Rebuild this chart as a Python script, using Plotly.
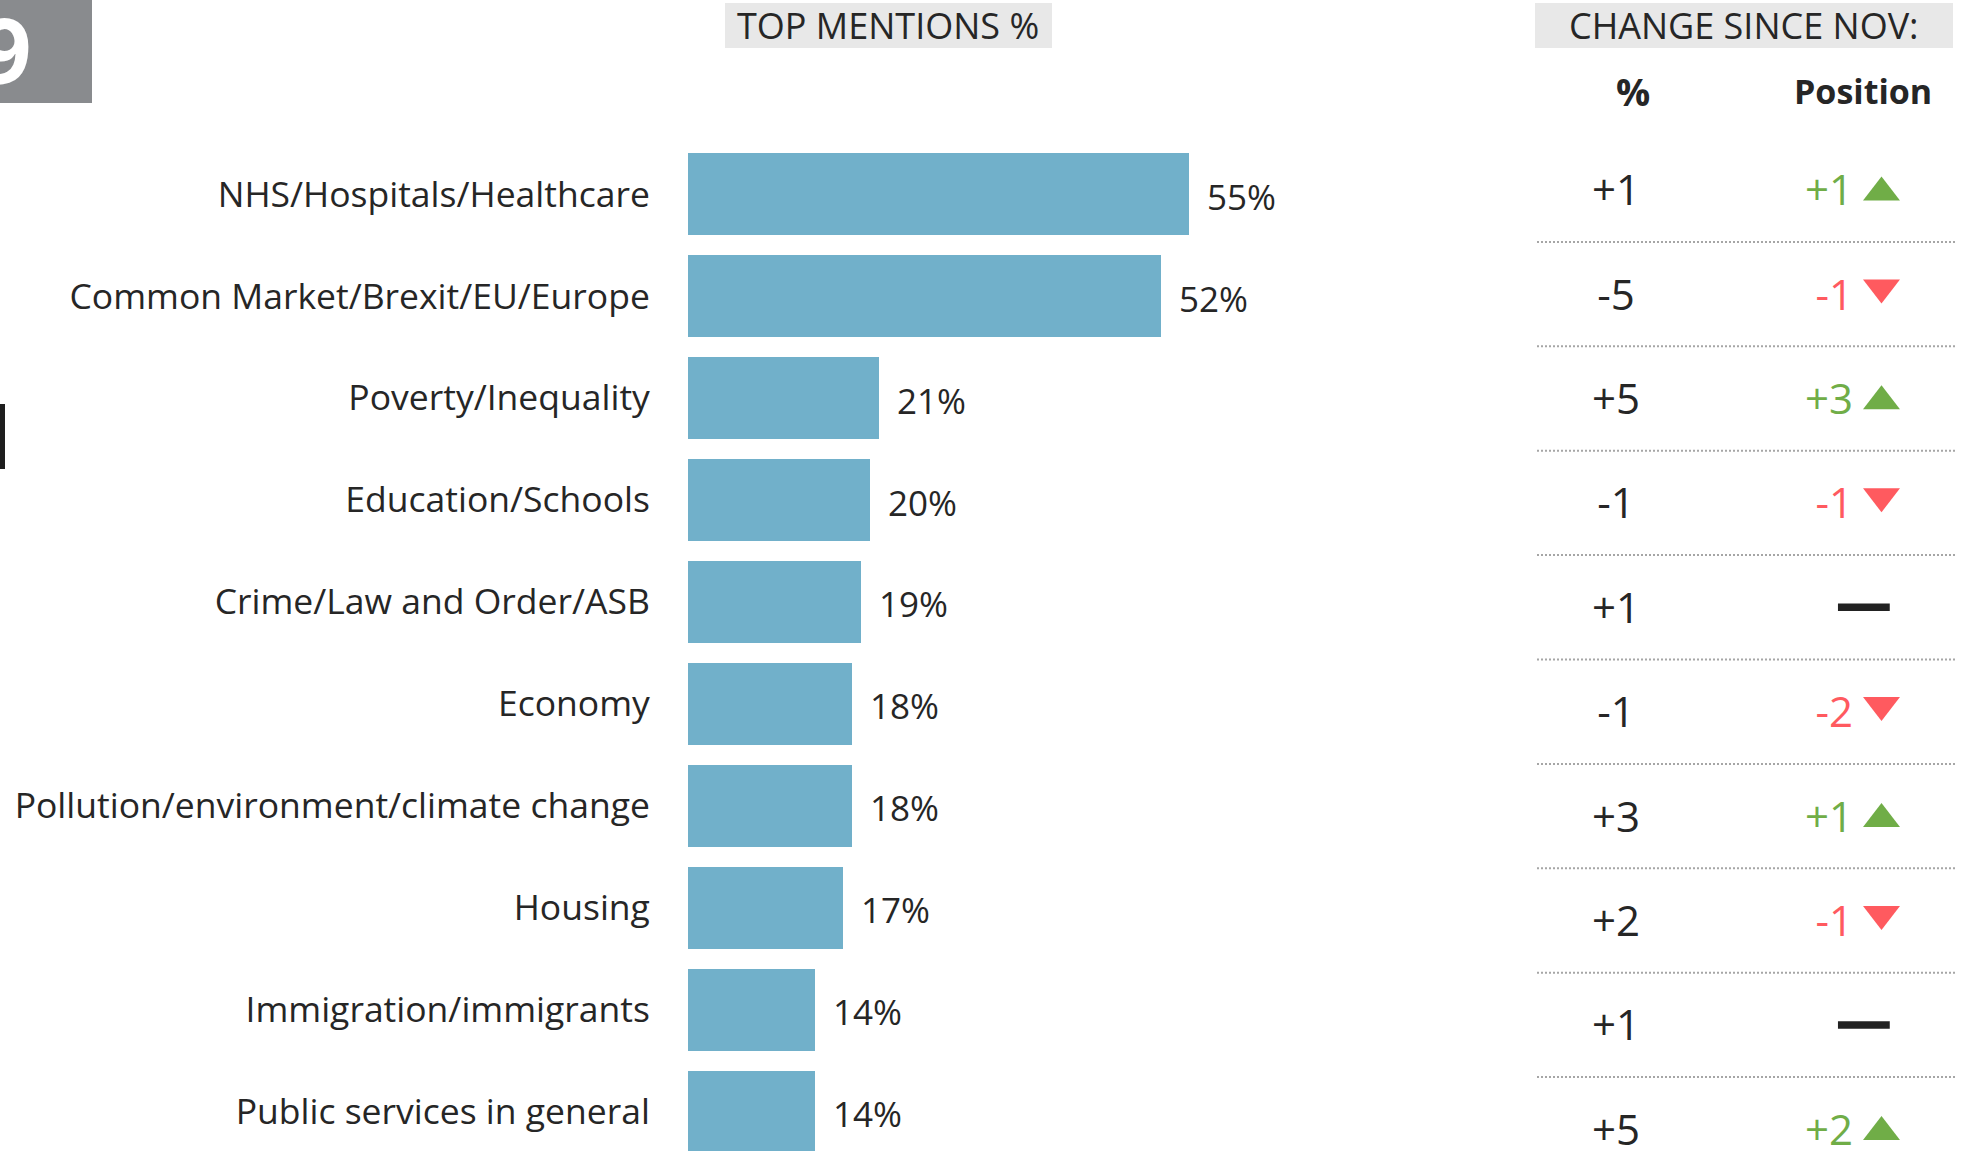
import plotly.graph_objects as go

W, H = 1970, 1151

# ---------------- data ----------------
categories = [
    "NHS/Hospitals/Healthcare",
    "Common Market/Brexit/EU/Europe",
    "Poverty/Inequality",
    "Education/Schools",
    "Crime/Law and Order/ASB",
    "Economy",
    "Pollution/environment/climate change",
    "Housing",
    "Immigration/immigrants",
    "Public services in general",
]
top_mentions = [55, 52, 21, 20, 19, 18, 18, 17, 14, 14]
pct_change = ["+1", "-5", "+5", "-1", "+1", "-1", "+3", "+2", "+1", "+5"]
position_change = [1, -1, 3, -1, 0, -2, 1, -1, 0, 2]

# ---------------- style ----------------
FONT = "Open Sans"
TXT = "#262626"
BAR = "#71b0ca"
GREEN = "#70ad47"
RED = "#ff5a5f"

def px_x(p):
    return p / W

def px_y(p):
    return 1 - p / H

n = len(categories)
rows = list(range(n))
ROW_T = 104.4           # table row pitch in px
TEXT_DY = 5.0 / ROW_T   # small vertical nudges for visual centring
UP_DY = 2.8 / ROW_T
DN_DY = -6.6 / ROW_T

fig = go.Figure()

# bars
fig.add_trace(go.Bar(
    y=rows,
    x=top_mentions,
    orientation="h",
    width=0.8,
    marker=dict(color=BAR, line=dict(width=0)),
    hoverinfo="skip",
    xaxis="x", yaxis="y",
))

# table: % change column
fig.add_trace(go.Scatter(
    x=[0.193] * n, y=[r + TEXT_DY for r in rows], mode="text", text=pct_change,
    textposition="middle center",
    textfont=dict(family=FONT, size=42, color=TXT),
    xaxis="x2", yaxis="y2", hoverinfo="skip", cliponaxis=False,
))

# table: position change text
pos_text = [("+%d" % v if v > 0 else "%d" % v) if v != 0 else "" for v in position_change]
pos_col = [GREEN if v > 0 else RED for v in position_change]
fig.add_trace(go.Scatter(
    x=[0.757] * n, y=[r + TEXT_DY for r in rows], mode="text", text=pos_text,
    textposition="middle left",
    textfont=dict(family=FONT, size=42, color=pos_col),
    xaxis="x2", yaxis="y2", hoverinfo="skip", cliponaxis=False,
))

# triangles / dashes
up_rows = [i for i, v in enumerate(position_change) if v > 0]
dn_rows = [i for i, v in enumerate(position_change) if v < 0]
eq_rows = [i for i, v in enumerate(position_change) if v == 0]
fig.add_trace(go.Scatter(
    x=[0.825] * len(up_rows), y=[r + UP_DY for r in up_rows], mode="markers",
    marker=dict(symbol="triangle-up", size=32, color=GREEN, line=dict(width=0)),
    xaxis="x2", yaxis="y2", hoverinfo="skip", cliponaxis=False,
))
fig.add_trace(go.Scatter(
    x=[0.825] * len(dn_rows), y=[r + DN_DY for r in dn_rows], mode="markers",
    marker=dict(symbol="triangle-down", size=32, color=RED, line=dict(width=0)),
    xaxis="x2", yaxis="y2", hoverinfo="skip", cliponaxis=False,
))
fig.add_trace(go.Scatter(
    x=[0.783] * len(eq_rows), y=eq_rows, mode="markers",
    marker=dict(symbol="line-ew", size=37, line=dict(width=7.5, color="#222222")),
    xaxis="x2", yaxis="y2", hoverinfo="skip", cliponaxis=False,
))

shapes = []
# dotted separators between table rows
for i in range(n - 1):
    shapes.append(dict(
        type="line", xref="paper", yref="y2",
        x0=px_x(1537), x1=px_x(1955), y0=i + 0.5, y1=i + 0.5,
        line=dict(color="#a6a6a6", width=2, dash="2px,2px"),
    ))
# header boxes
shapes.append(dict(type="rect", xref="paper", yref="paper",
                   x0=px_x(725), x1=px_x(1052), y0=px_y(48), y1=px_y(3),
                   fillcolor="#e8e8e8", line=dict(width=0), layer="below"))
shapes.append(dict(type="rect", xref="paper", yref="paper",
                   x0=px_x(1535), x1=px_x(1953), y0=px_y(48), y1=px_y(3),
                   fillcolor="#e8e8e8", line=dict(width=0), layer="below"))
# grey slide-number box
shapes.append(dict(type="rect", xref="paper", yref="paper",
                   x0=0, x1=px_x(92), y0=px_y(103), y1=1,
                   fillcolor="#898b8e", line=dict(width=0), layer="below"))
# small black bar at left edge
shapes.append(dict(type="rect", xref="paper", yref="paper",
                   x0=0, x1=px_x(5), y0=px_y(469), y1=px_y(404),
                   fillcolor="#1e1e1e", line=dict(width=0)))

annotations = [
    dict(text="TOP MENTIONS %", x=px_x(888), y=px_y(26), xref="paper", yref="paper",
         showarrow=False, xanchor="center", yanchor="middle",
         font=dict(family=FONT, size=36, color=TXT)),
    dict(text="CHANGE SINCE NOV:", x=px_x(1744), y=px_y(26), xref="paper", yref="paper",
         showarrow=False, xanchor="center", yanchor="middle",
         font=dict(family=FONT, size=36, color=TXT)),
    dict(text="<b>%</b>", x=px_x(1633), y=px_y(90.5), xref="paper", yref="paper",
         showarrow=False, xanchor="center", yanchor="middle",
         font=dict(family=FONT, size=38, color=TXT)),
    dict(text="<b>Position</b>", x=px_x(1863), y=px_y(90.5), xref="paper", yref="paper",
         showarrow=False, xanchor="center", yanchor="middle",
         font=dict(family=FONT, size=34, color=TXT)),
    dict(text="<b>9</b>", x=px_x(34), y=px_y(48.5), xref="paper", yref="paper",
         showarrow=False, xanchor="right", yanchor="middle",
         font=dict(family=FONT, size=92, color="white")),
]
# value labels at the end of each bar
for i, v in enumerate(top_mentions):
    annotations.append(dict(
        text=f"{v}%", x=v, y=i, xref="x", yref="y",
        showarrow=False, xanchor="left", yanchor="middle", xshift=16, yshift=-2,
        font=dict(family=FONT, size=35, color=TXT),
    ))

fig.update_layout(
    width=W, height=H,
    margin=dict(l=0, r=0, t=0, b=0),
    paper_bgcolor="white", plot_bgcolor="rgba(0,0,0,0)",
    showlegend=False,
    bargap=0,
    shapes=shapes,
    annotations=annotations,
    xaxis=dict(domain=[px_x(688), px_x(1500)], range=[0, 812 / 9.1],
               visible=False, fixedrange=True),
    yaxis=dict(domain=[0, 1], range=[(H - 194.1) / 101.97, -194.1 / 101.97],
               tickmode="array", tickvals=rows, ticktext=categories,
               ticks="outside", ticklen=30, tickcolor="rgba(0,0,0,0)",
               tickfont=dict(family=FONT, size=35.5, color=TXT),
               showgrid=False, zeroline=False, showline=False, fixedrange=True),
    xaxis2=dict(domain=[px_x(1535), px_x(1955)], range=[0, 1], anchor="y2",
                visible=False, fixedrange=True),
    yaxis2=dict(domain=[0, 1], range=[(H - 189.7) / ROW_T, -189.7 / ROW_T], anchor="x2",
                visible=False, fixedrange=True),
)

fig.write_html("out.html", config={"displayModeBar": False},
               post_script="document.body.style.margin='0px';")
